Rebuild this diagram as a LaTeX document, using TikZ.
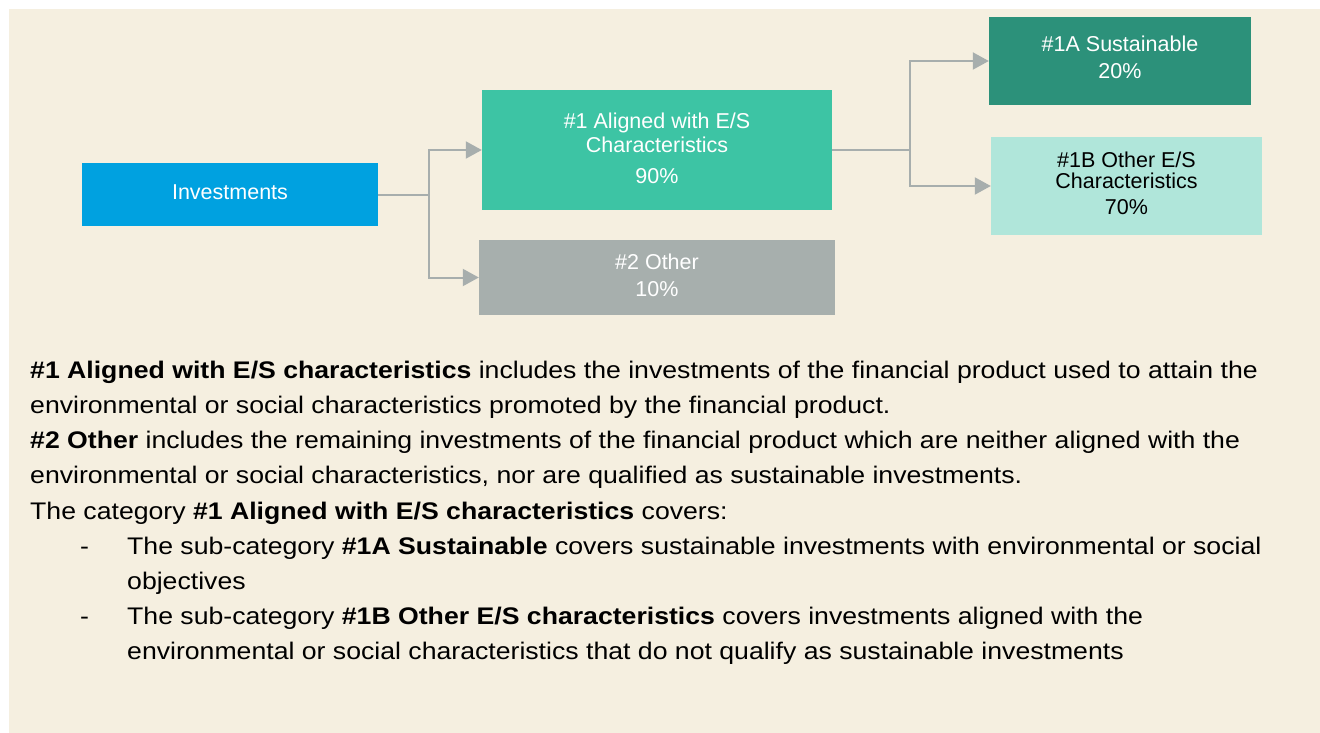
\documentclass[tikz,border=0pt]{standalone}
\usepackage{fontspec}
\usepackage{graphicx}
\setmainfont{Liberation Sans}
\usetikzlibrary{arrows.meta}
\definecolor{bg}{RGB}{245,239,224}
\definecolor{cinv}{RGB}{0,161,224}
\definecolor{caln}{RGB}{61,196,164}
\definecolor{coth}{RGB}{167,175,173}
\definecolor{csus}{RGB}{44,145,122}
\definecolor{cobs}{RGB}{176,230,218}
\definecolor{cline}{RGB}{167,174,173}
\newcommand{\wide}[1]{\scalebox{1.11}[1]{#1}}
\tikzset{
  box/.style={rectangle, inner sep=0pt},
  boxtxt/.style={inner sep=0pt, align=center, text=white,
    font=\fontsize{21.5}{24}\selectfont},
  conn/.style={draw=cline, line width=2pt, -{Triangle[length=16pt,width=17pt]}},
  plain/.style={draw=cline, line width=2pt},
  body/.style={anchor=base west, inner sep=0pt, text=black,
    font=\fontsize{24}{28}\selectfont}
}
\begin{document}
\begin{tikzpicture}[x=1pt,y=-1pt]
\useasboundingbox (0,0) rectangle (1320,733);
\fill[white] (0,0) rectangle (1320,733);
\fill[bg] (9,9) rectangle (1320,733);

\node[box, fill=cinv, minimum width=296pt, minimum height=63pt] (inv) at (230,194.5) {};
\node[box, fill=caln, minimum width=350pt, minimum height=120pt] (aln) at (657,150) {};
\node[box, fill=coth, minimum width=356pt, minimum height=75pt] (oth) at (657,277.5) {};
\node[box, fill=csus, minimum width=262pt, minimum height=88pt] (sus) at (1120,61) {};
\node[box, fill=cobs, minimum width=271pt, minimum height=98pt] (obs) at (1126.5,186) {};

\node[boxtxt] (invt) at ([yshift=2pt]inv.center) {Investments};
\node[boxtxt] (alnt) at ([yshift=1.5pt]aln.center) {\#1 Aligned with E/S\\Characteristics\\[7pt]90\%};
\node[boxtxt] (otht) at ([yshift=2.5pt]oth.center) {\#2 Other\\[3pt]10\%};
\node[boxtxt] (sust) at ([yshift=3.5pt]sus.center) {\#1A Sustainable\\[3pt]20\%};
\node[boxtxt, text=black] (obst) at ([yshift=3pt]obs.center) {\#1B Other E/S\\[-3pt]Characteristics\\[2pt]70\%};

\coordinate (j1) at (429,194.5);
\coordinate (j2) at (910,150);
\draw[plain] (inv.east) -- (j1);
\draw[conn] (j1) |- (aln.west);
\draw[conn] (j1) |- (oth.west);
\draw[plain] (aln.east) -- (j2);
\draw[conn] (j2) |- (sus.west);
\draw[conn] (j2) |- (obs.west);

\node[body] (t1) at (30,378) {\wide{\textbf{\#1 Aligned with E/S characteristics} includes the investments of the financial product used to attain the}};
\node[body] (t2) at (30,413) {\wide{environmental or social characteristics promoted by the financial product.}};
\node[body] (t3) at (30,448) {\wide{\textbf{\#2 Other} includes the remaining investments of the financial product which are neither aligned with the}};
\node[body] (t4) at (30,483) {\wide{environmental or social characteristics, nor are qualified as sustainable investments.}};
\node[body] (t5) at (30,519) {\wide{The category \textbf{\#1 Aligned with E/S characteristics} covers:}};
\node[body] (d1) at (80,554) {\wide{-}};
\node[body] (t6) at (127,554) {\wide{The sub-category \textbf{\#1A Sustainable} covers sustainable investments with environmental or social}};
\node[body] (t7) at (127,589) {\wide{objectives}};
\node[body] (d2) at (80,624) {\wide{-}};
\node[body] (t8) at (127,624) {\wide{The sub-category \textbf{\#1B Other E/S characteristics} covers investments aligned with the}};
\node[body] (t9) at (127,659) {\wide{environmental or social characteristics that do not qualify as sustainable investments}};
\end{tikzpicture}
\end{document}
